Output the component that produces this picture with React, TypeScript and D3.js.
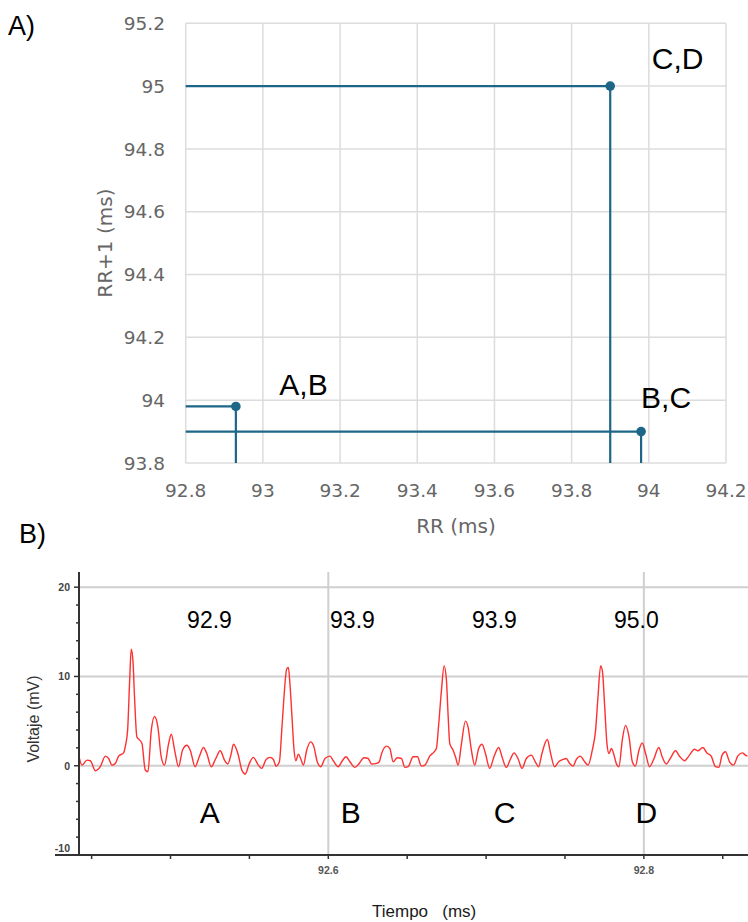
import React from "react";
import * as d3 from "d3";

// ---------- Panel A data (Poincaré-style plot) ----------
const pairLabels = ["A,B", "B,C", "C,D"];
const rrValues = [92.93, 93.98, 93.9];
const rrNextValues = [93.98, 93.9, 95.0];
const rrTicks = [92.8, 93, 93.2, 93.4, 93.6, 93.8, 94, 94.2];
const rrNextTicks = [93.8, 94, 94.2, 94.4, 94.6, 94.8, 95, 95.2];

// ---------- Panel B data (ECG trace) ----------
const ecgTime = [
  92.4418, 92.4439, 92.4471, 92.4492, 92.4524, 92.4555, 92.4587, 92.4608, 92.4629, 92.465,
  92.4671, 92.4703, 92.4713, 92.4728, 92.4741, 92.4751, 92.4762, 92.4772, 92.4787, 92.4802,
  92.4819, 92.484, 92.4857, 92.4878, 92.4899, 92.492, 92.4941, 92.4962, 92.4988, 92.5005,
  92.5026, 92.5051, 92.5076, 92.5104, 92.5125, 92.5156, 92.5182, 92.5209, 92.523, 92.5258,
  92.5287, 92.5315, 92.5342, 92.5363, 92.5384, 92.5399, 92.5427, 92.5452,
  92.5473, 92.55, 92.5525, 92.5557, 92.5578, 92.5606, 92.5631, 92.5652, 92.5669, 92.569,
  92.5705, 92.5719, 92.5736, 92.5747, 92.5757, 92.577, 92.5783, 92.5795, 92.581, 92.5825,
  92.5842, 92.5863, 92.5888, 92.5909, 92.593, 92.5952, 92.5979, 92.6011, 92.6032, 92.6063,
  92.6085, 92.6112, 92.6137, 92.6169, 92.6196, 92.6226, 92.6253, 92.6274, 92.6306, 92.6323,
  92.6338, 92.6369, 92.639, 92.6411, 92.6437, 92.6464, 92.6485,
  92.6506, 92.6538, 92.6565, 92.659, 92.6612, 92.6643, 92.6671, 92.6685, 92.67, 92.6717,
  92.6734, 92.6749, 92.6759, 92.677, 92.6791, 92.6806, 92.6823, 92.6844, 92.6869, 92.6886,
  92.6907, 92.6928, 92.6953, 92.6974, 92.6996, 92.7023, 92.705, 92.708, 92.7101, 92.7128,
  92.7156, 92.7177, 92.7202, 92.7228, 92.7255, 92.7287, 92.7312, 92.7333, 92.7354, 92.7388,
  92.7409, 92.7434, 92.746, 92.7487, 92.7508, 92.7529,
  92.7551, 92.7572, 92.7597, 92.7625, 92.7646, 92.7673, 92.7694, 92.7709, 92.7726, 92.7737,
  92.7752, 92.7766, 92.7779, 92.7794, 92.7808, 92.7825, 92.7842, 92.7863, 92.7884, 92.7906,
  92.7927, 92.7946, 92.7969, 92.799, 92.8011, 92.8036, 92.8062, 92.8095, 92.8116, 92.8142,
  92.8167, 92.8201, 92.8226, 92.8258, 92.8289, 92.8321, 92.8342, 92.8374, 92.8399, 92.8427,
  92.8454, 92.8475, 92.8496, 92.8517, 92.8543, 92.8568, 92.8595, 92.8623, 92.8644, 92.8656,
];
const ecgVoltage = [
  1.19, 0.07, 0.63, 0.56, -0.56, -0.11, 1.07, 0.81, 0.07, 0.26,
  1.07, 1.44, 2.11, 3.96, 9.52, 13.04, 11.74, 7.67, 3.22, 2.93,
  2.48, -0.48, -0.67, 3.96, 5.52, 4.33, 1.0, 0.07, 2.48, 3.52,
  1.74, -0.11, 1.74, 2.3, 1.74, -0.11, 1.0, 2.04, 1.37, -0.11,
  0.81, 1.67, 0.63, 0.19, 1.3, 2.41, 1.37, -0.48,
  -0.93, 0.26, 0.93, 0.07, -0.3, 0.7, 0.93, 0.7, -0.04, 0.44,
  3.96, 7.67, 10.81, 11.0, 9.15, 5.44, 1.74, 0.56, 1.3, 0.81,
  0.07, 1.74, 2.67, 2.11, 0.44, -0.11, 0.81, 1.07, 0.56, -0.11,
  0.44, 1.0, 0.44, -0.19, 0.26, 0.89, 0.81, 0.19, 0.26, 0.44,
  1.37, 2.19, 1.93, 0.44, 0.89, 0.81, -0.19,
  -0.11, 1.0, 1.0, -0.04, 0.07, 1.07, 1.56, 1.93, 4.7, 8.41,
  11.19, 9.52, 5.81, 2.48, 1.74, 1.0, 0.07, 2.48, 5.0, 4.33,
  1.74, 0.07, 1.93, 2.41, 1.37, -0.3, 1.0, 2.04, 1.0, -0.19,
  0.81, 1.44, 0.81, -0.3, 0.81, 1.19, 0.44, -0.11, 1.37, 2.93,
  1.37, -0.11, 0.44, 0.7, 0.81, 0.26,
  -0.04, 0.7, 1.07, 0.44, 0.07, 1.74, 3.96, 7.67, 11.19, 10.63,
  6.56, 2.48, 1.37, 1.93, 1.37, 0.26, -0.11, 2.85, 4.52, 3.22,
  0.44, -0.04, 1.74, 2.56, 1.37, -0.11, 0.7, 2.04, 1.0, 0.19,
  0.81, 1.67, 1.07, 0.56, 1.19, 1.85, 1.67, 2.04, 1.44, 1.07,
  -0.11, -0.19, 1.19, 1.56, 0.44, 0.07, 1.07, 1.44, 1.19, 1.07,
];
const beatLabels = ["A", "B", "C", "D"];
const beatLabelTimes = [92.5248, 92.6143, 92.7117, 92.8016];
const beatLabelVolt = -6.4;
const intervalLabels = ["92.9", "93.9", "93.9", "95.0"];
const intervalLabelTimes = [92.5247, 92.6153, 92.7053, 92.7952];
const intervalLabelVolt = 15.4;
const timeMajorTicks = [92.6, 92.8];
const timeMinorTicks = [92.45, 92.5, 92.55, 92.65, 92.7, 92.75, 92.85];
const voltMajorTicks = [-10, 0, 10, 20];
const voltMinorTicks = [-8, -6, -4, -2, 2, 4, 6, 8, 12, 14, 16, 18];
const voltGrid = [0, 10, 20];

const W = 748;
const H = 922;

export default function App() {
  // ----- Panel A scales -----
  const ax = d3.scaleLinear().domain([92.8, 94.2]).range([185.7, 726]);
  const ay = d3.scaleLinear().domain([93.8, 95.2]).range([463, 23.3]);
  const blue = "#1d6687";
  const gridA = "#dcdcdc";
  const tickFont = "'DejaVu Sans', sans-serif";
  const sans = "'Liberation Sans', Arial, sans-serif";

  const points = rrValues.map((rr, i) => ({ rr, rn: rrNextValues[i], label: pairLabels[i] }));
  const labelOffsets = [
    [43.5, -11],
    [0, -23.5],
    [41.5, -17],
  ];

  // ----- Panel B scales -----
  const bx = d3.scaleLinear().domain([92.442, 92.866]).range([79, 748]);
  const by = d3.scaleLinear().domain([-10, 21.7]).range([855, 572]);
  const ecg = ecgTime.map((t, i) => [t, ecgVoltage[i]] as [number, number]);
  const line = d3
    .line<[number, number]>()
    .x((d) => bx(d[0]))
    .y((d) => by(d[1]))
    .curve(d3.curveMonotoneX);

  const bTop = by(21.7);
  const bBottom = by(-10);
  const bLeft = bx(92.442);

  return (
    <svg
      width={W}
      height={H}
      viewBox={`0 0 ${W} ${H}`}
      style={{ position: "absolute", left: 0, top: 0, background: "#fff" }}
    >
      <rect x={0} y={0} width={W} height={H} fill="#fff" />

      {/* ================= Panel A ================= */}
      <text x={8} y={35} fontFamily={sans} fontSize={27} fill="#000">
        A)
      </text>
      <g>
        {rrTicks.map((t) => (
          <line key={"vx" + t} x1={ax(t)} x2={ax(t)} y1={ay(95.2)} y2={ay(93.8)} stroke={gridA} strokeWidth={1.5} />
        ))}
        {rrNextTicks.map((t) => (
          <line key={"hy" + t} x1={ax(92.8)} x2={ax(94.2)} y1={ay(t)} y2={ay(t)} stroke={gridA} strokeWidth={1.5} />
        ))}
        {rrNextTicks.map((t) => (
          <text
            key={"ly" + t}
            x={165}
            y={ay(t)}
            dy="0.36em"
            textAnchor="end"
            fontFamily={tickFont}
            fontSize={18.5}
            fill="#666"
          >
            {String(t)}
          </text>
        ))}
        {rrTicks.map((t) => (
          <text
            key={"lx" + t}
            x={ax(t)}
            y={497}
            textAnchor="middle"
            fontFamily={tickFont}
            fontSize={18.5}
            fill="#666"
          >
            {String(t)}
          </text>
        ))}
        <text x={456} y={533} textAnchor="middle" fontFamily={tickFont} fontSize={20} fill="#666">
          RR (ms)
        </text>
        <text
          transform={`translate(105, ${(ay(93.8) + ay(95.2)) / 2}) rotate(-90)`}
          textAnchor="middle"
          dy="0.36em"
          fontFamily={tickFont}
          fontSize={20}
          fill="#666"
        >
          RR+1 (ms)
        </text>

        {points.map((p, i) => (
          <g key={"p" + i}>
            <line x1={ax(92.8)} x2={ax(p.rr)} y1={ay(p.rn)} y2={ay(p.rn)} stroke={blue} strokeWidth={2.2} />
            <line x1={ax(p.rr)} x2={ax(p.rr)} y1={ay(93.8)} y2={ay(p.rn)} stroke={blue} strokeWidth={2.2} />
            <circle cx={ax(p.rr)} cy={ay(p.rn)} r={4.8} fill={blue} />
          </g>
        ))}
        {points.map((p, i) => (
          <text
            key={"pl" + i}
            x={ax(p.rr) + labelOffsets[i][0]}
            y={ay(p.rn) + labelOffsets[i][1]}
            fontFamily={sans}
            fontSize={30}
            fill="#000"
          >
            {p.label}
          </text>
        ))}
      </g>

      {/* ================= Panel B ================= */}
      <text x={19} y={543} fontFamily={sans} fontSize={27} fill="#000">
        B)
      </text>
      <g>
        {voltGrid.map((v) => (
          <line key={"g" + v} x1={bLeft} x2={W} y1={by(v)} y2={by(v)} stroke="#cfcfcf" strokeWidth={2} />
        ))}
        {timeMajorTicks.map((t) => (
          <line key={"gt" + t} x1={bx(t)} x2={bx(t)} y1={bTop} y2={bBottom} stroke="#cfcfcf" strokeWidth={2} />
        ))}

        <defs>
          <clipPath id="ecgClip">
            <rect x={bLeft} y={bTop} width={W - bLeft} height={bBottom - bTop} />
          </clipPath>
        </defs>
        <path d={line(ecg) || ""} fill="none" stroke="#ff3030" strokeWidth={1.4} clipPath="url(#ecgClip)" />

        {/* axes */}
        <line x1={bLeft} x2={bLeft} y1={bTop} y2={bBottom} stroke="#333" strokeWidth={2} />
        <line x1={55} x2={W} y1={bBottom} y2={bBottom} stroke="#333" strokeWidth={2} />
        {voltMajorTicks.map((v) => (
          <line key={"ymt" + v} x1={bLeft - 5} x2={bLeft} y1={by(v)} y2={by(v)} stroke="#333" strokeWidth={1.5} />
        ))}
        {voltMinorTicks.map((v) => (
          <line key={"ynt" + v} x1={bLeft - 3} x2={bLeft} y1={by(v)} y2={by(v)} stroke="#333" strokeWidth={1.5} />
        ))}
        {voltMajorTicks.map((v) => (
          <text
            key={"yl" + v}
            x={70}
            y={v === -10 ? by(v) - 7 : by(v)}
            dy="0.36em"
            textAnchor="end"
            fontFamily={sans}
            fontWeight="bold"
            fontSize={10.5}
            fill="#444"
          >
            {String(v)}
          </text>
        ))}
        {[...timeMajorTicks, ...timeMinorTicks].map((t) => (
          <line key={"xt" + t} x1={bx(t)} x2={bx(t)} y1={bBottom} y2={bBottom + 4} stroke="#333" strokeWidth={1.5} />
        ))}
        {timeMajorTicks.map((t) => (
          <text
            key={"xl" + t}
            x={bx(t)}
            y={874}
            textAnchor="middle"
            fontFamily={sans}
            fontWeight="bold"
            fontSize={10.5}
            fill="#555"
          >
            {String(t)}
          </text>
        ))}

        {intervalLabels.map((s, i) => (
          <text
            key={"il" + i}
            x={bx(intervalLabelTimes[i])}
            y={by(intervalLabelVolt)}
            textAnchor="middle"
            fontFamily={sans}
            fontSize={23}
            fill="#000"
          >
            {s}
          </text>
        ))}
        {beatLabels.map((s, i) => (
          <text
            key={"bl" + i}
            x={bx(beatLabelTimes[i])}
            y={by(beatLabelVolt)}
            textAnchor="middle"
            fontFamily={sans}
            fontSize={30}
            fill="#000"
          >
            {s}
          </text>
        ))}

        <text x={372} y={917} fontFamily={sans} fontSize={17} fill="#1a1a1a" style={{ whiteSpace: "pre" }}>
          {"Tiempo   (ms)"}
        </text>
        <text
          transform={`translate(33, 719) rotate(-90)`}
          textAnchor="middle"
          dy="0.36em"
          fontFamily={sans}
          fontSize={16}
          fill="#333"
        >
          Voltaje (mV)
        </text>
      </g>
    </svg>
  );
}
